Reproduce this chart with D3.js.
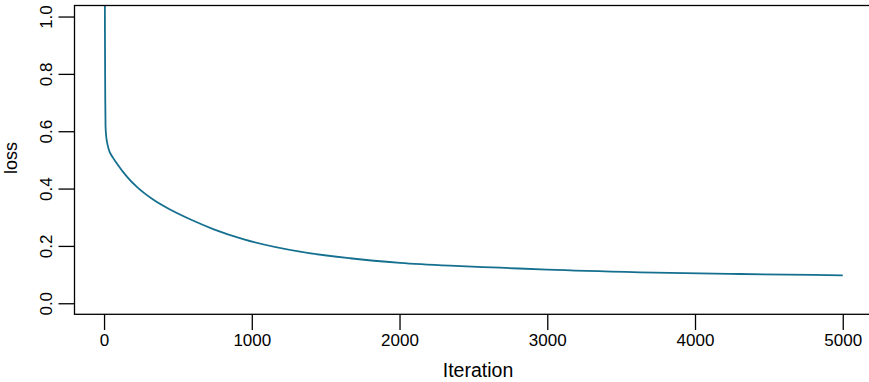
<!DOCTYPE html>
<html>
<head>
<meta charset="utf-8">
<script src="https://cdn.jsdelivr.net/npm/d3@7"></script>
<style>
  body { margin: 0; background: #fff; }
  svg { display: block; }
  text { font-family: "Liberation Sans", Arial, Helvetica, sans-serif; fill: #000; }
</style>
</head>
<body>
<div id="chart"></div>
<script>
// loss curve
var iterations = [0, 2, 4, 6, 8, 10, 14, 20, 32, 60, 89, 156, 224, 337, 450, 586, 743, 947, 1326, 1664, 2003, 2341, 2680, 3000, 3628, 4305, 5000];
var loss = [4.0, 2.2, 1.4, 0.95, 0.72, 0.62, 0.585, 0.563, 0.536, 0.508, 0.486, 0.441, 0.405, 0.360, 0.326, 0.292, 0.258, 0.223, 0.180, 0.157, 0.141, 0.131, 0.124, 0.117, 0.108, 0.102, 0.0975];
var xTicks = [0, 1000, 2000, 3000, 4000, 5000];
var yTicks = [0.0, 0.2, 0.4, 0.6, 0.8, 1.0];

var W = 869, H = 382;
var box = {left: 74.5, right: 872.3, top: 5.5, bottom: 314.3};

var x = d3.scaleLinear().domain([-200, 5200]).range([box.left, box.right]);
var y = d3.scaleLinear().domain([-0.0385, 1.0385]).range([box.bottom, box.top]);

var svg = d3.select("#chart").append("svg")
    .attr("width", W)
    .attr("height", H);

svg.append("defs").append("clipPath").attr("id", "plotclip")
  .append("rect")
    .attr("x", box.left).attr("y", box.top)
    .attr("width", box.right - box.left).attr("height", box.bottom - box.top);

var data = iterations.map(function(d, i) { return {it: d, v: loss[i]}; });

var line = d3.line()
    .x(function(d) { return x(d.it); })
    .y(function(d) { return y(d.v); })
    .curve(d3.curveMonotoneX);

svg.append("path")
    .datum(data)
    .attr("clip-path", "url(#plotclip)")
    .attr("fill", "none")
    .attr("stroke", "#15708f")
    .attr("stroke-width", 1.8)
    .attr("d", line);

// box
svg.append("rect")
    .attr("x", box.left).attr("y", box.top)
    .attr("width", box.right - box.left).attr("height", box.bottom - box.top)
    .attr("fill", "none")
    .attr("stroke", "#000")
    .attr("stroke-width", 1.3);

// x axis
var xAxis = d3.axisBottom(x).tickValues(xTicks).tickSize(15.7).tickPadding(4)
    .tickFormat(d3.format("d"));
var gx = svg.append("g")
    .attr("transform", "translate(0," + box.bottom + ")")
    .call(xAxis);
gx.select(".domain").remove();
gx.selectAll("line").attr("stroke", "#000").attr("stroke-width", 1.3);
gx.selectAll("text").attr("font-size", 17).attr("font-family", "Liberation Sans, Arial, sans-serif");

// y axis, labels rotated as in R
var yAxis = d3.axisLeft(y).tickValues(yTicks).tickSize(16).tickFormat(d3.format(".1f"));
var gy = svg.append("g")
    .attr("transform", "translate(" + box.left + ",0)")
    .call(yAxis);
gy.select(".domain").remove();
gy.selectAll("line").attr("stroke", "#000").attr("stroke-width", 1.3);
gy.selectAll("text")
    .attr("font-size", 17)
    .attr("font-family", "Liberation Sans, Arial, sans-serif")
    .attr("x", null).attr("dy", null)
    .attr("text-anchor", "middle")
    .attr("transform", "translate(-22.8,0) rotate(-90)");

// axis titles
svg.append("text")
    .attr("x", 478)
    .attr("y", 376.5)
    .attr("text-anchor", "middle")
    .attr("font-size", 19.5)
    .text("Iteration");

svg.append("text")
    .attr("transform", "translate(17.3," + ((box.top + box.bottom) / 2 - 2) + ") rotate(-90)")
    .attr("text-anchor", "middle")
    .attr("font-size", 18)
    .text("loss");
</script>
</body>
</html>
